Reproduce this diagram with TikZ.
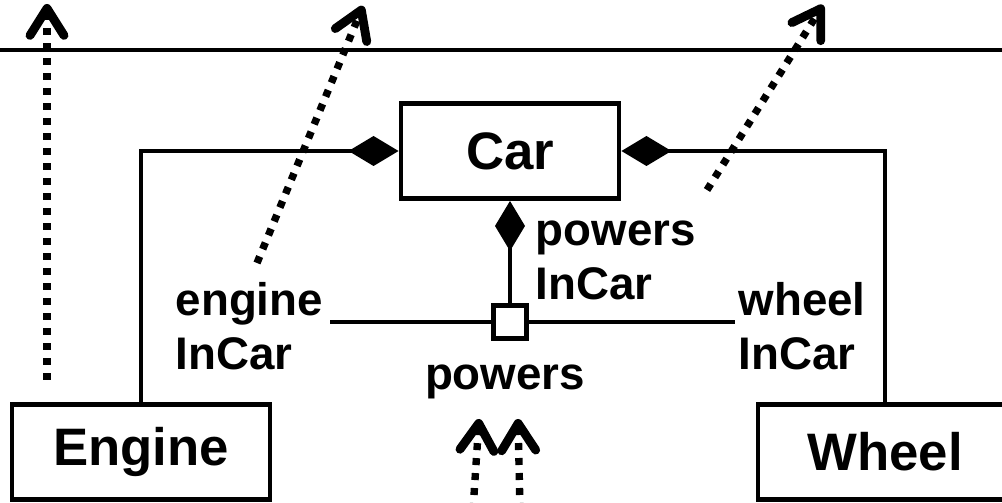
\documentclass[tikz,border=0pt]{standalone}
\usepackage{fontspec}
\setmainfont{Liberation Sans}
\usetikzlibrary{arrows.meta, positioning}
\tikzset{
  cls/.style ={rectangle, draw, line width=1.4pt, fill=white, inner sep=0pt,
               minimum height=0.95cm, font=\fontsize{15}{18}\selectfont\bfseries},
  role/.style={align=left, inner sep=0pt, font=\fontsize{13}{15.6}\selectfont\bfseries},
  qual/.style={rectangle, draw, line width=1.2pt, fill=white, inner sep=0pt, minimum size=0.33cm},
  link/.style={line width=1.2pt},
  comp/.style={line width=1.2pt, -{Diamond[length=5mm, width=3mm]}},
  dep/.style ={line width=2.1pt, dash pattern=on 0.7mm off 0.8mm,
               -{Straight Barb[length=2.7mm, width=3.4mm, line width=0pt 1.2,
                 line cap=round, line join=round]}},
}

\begin{document}
\begin{tikzpicture}[x=0.1mm, y=-0.1mm]
  \useasboundingbox (0,0) rectangle (1002,503);
  % boundary line
  \coordinate (lineL) at (0,50);
  \coordinate (lineR) at (1002,50);
  \draw[link] (lineL) -- (lineR);

  % classes
  \node[cls, minimum width=2.18cm] (car) at (510,151) {Car};
  \node[cls, minimum width=2.58cm] (engine) at (141,452) {Engine};
  \node[cls, minimum width=2.54cm] (wheel) at (885,452) {Wheel};

  % qualified association
  \node[qual] (pin) at (510,322) {};
  \coordinate (assocL) at (330,322);
  \coordinate (assocR) at (735,322);
  \draw[link] (assocL) -- (pin.west);
  \draw[link] (pin.east) -- (assocR);
  \node[role, below=2.4mm of pin, xshift=-0.5mm] (assoc) {powers};

  \draw[comp] (engine.north) |- (car.west);
  \draw[comp] (wheel.north) |- (car.east);
  \draw[comp] (pin.north) -- (car.south);

  % role names
  \node[role, anchor=base west] (engrole) at (175,370) {engine\\InCar};
  \node[role, anchor=base west] (powrole) at (535,300) {powers\\InCar};
  \node[role, anchor=base west] (whlrole) at (738,370) {wheel\\InCar};

  % dependencies
  \coordinate (d1s) at (47,380);  \coordinate (d1e) at (47,4);
  \coordinate (d2s) at (257,263); \coordinate (d2e) at (363,6);
  \coordinate (d3s) at (707,190); \coordinate (d3e) at (823,5);
  \coordinate (d4s) at (473,510); \coordinate (d4e) at (479,419);
  \coordinate (d5s) at (520,510); \coordinate (d5e) at (518,419);
  \draw[dep] (d1s) -- (d1e);
  \draw[dep] (d2s) -- (d2e);
  \draw[dep] (d3s) -- (d3e);
  \draw[dep] (d4s) -- (d4e);
  \draw[dep] (d5s) -- (d5e);
\end{tikzpicture}
\end{document}
